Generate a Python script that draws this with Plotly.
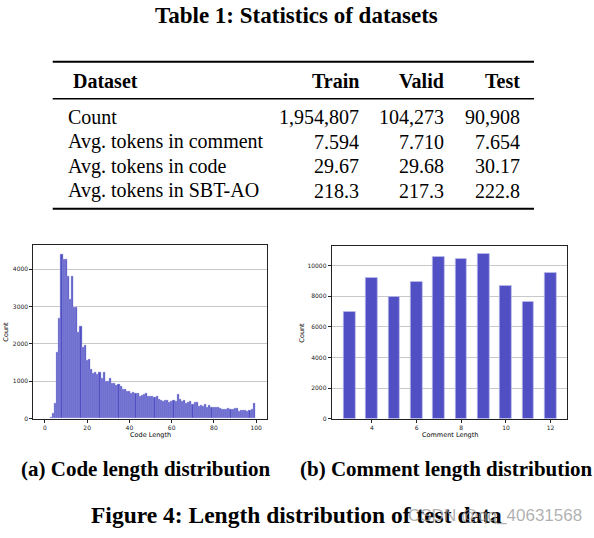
import plotly.graph_objects as go

# ---------------- data ----------------
table_title = "Table 1: Statistics of datasets"
table_header = ["Dataset", "Train", "Valid", "Test"]
row_labels = ["Count", "Avg. tokens in comment", "Avg. tokens in code", "Avg. tokens in SBT-AO"]
train_vals = ["1,954,807", "7.594", "29.67", "218.3"]
valid_vals = ["104,273", "7.710", "29.68", "217.3"]
test_vals = ["90,908", "7.654", "30.17", "222.8"]

code_len = list(range(3, 100))
code_count = [30, 140, 400, 1765, 2690, 4400, 4265, 4265, 3820, 3190,
              3800, 2970, 2990, 2310, 2470, 1920, 1960, 1570, 1600, 1330,
              1210, 1240, 1180, 1240, 1090, 1230, 1000, 1000, 1090, 940,
              940, 890, 910, 870, 780, 780, 740, 740, 690, 710,
              690, 670, 610, 620, 650, 670, 590, 590, 590, 580,
              600, 530, 500, 470, 500, 500, 450, 470, 500, 460,
              650, 520, 470, 490, 400, 450, 470, 390, 430, 430,
              340, 350, 330, 370, 310, 360, 300, 300, 300, 310,
              270, 260, 240, 240, 270, 250, 250, 270, 270, 200,
              220, 230, 210, 200, 210, 250, 420]

comment_len = [3, 4, 5, 6, 7, 8, 9, 10, 11, 12]
comment_count = [7000, 9220, 7960, 8940, 10590, 10480, 10760, 8700, 7610, 9545]

code_ticks = [0, 20, 40, 60, 80, 100]
code_yticks = [0, 1000, 2000, 3000, 4000]
comment_ticks = [4, 6, 8, 10, 12]
comment_yticks = [0, 2000, 4000, 6000, 8000, 10000]

caption_a = "(a) Code length distribution"
caption_b = "(b) Comment length distribution"
figure_caption = "Figure 4: Length distribution of test data"
watermark = "CSDN @qq_40631568"

# ---------------- layout helpers ----------------
W, H = 594, 538
def px(x):
    return x / W
def py(y):
    return 1 - y / H

SERIF = "Liberation Serif"
SANS = "DejaVu Sans"
BAR = "#5050c4"
EDGE = "rgba(190,190,240,0.9)"

fig = go.Figure()

fig.add_trace(go.Bar(x=code_len, y=code_count, width=1.0,
                     marker=dict(color=BAR, line=dict(color=EDGE, width=0.5)),
                     xaxis="x", yaxis="y", showlegend=False))
fig.add_trace(go.Bar(x=comment_len, y=comment_count, width=0.52,
                     marker=dict(color=BAR, line=dict(color=EDGE, width=0.8)),
                     xaxis="x2", yaxis="y2", showlegend=False))

tickfont = dict(family=SANS, size=6, color="#222")
common_ax = dict(showline=True, mirror=True, linecolor="#222", linewidth=1,
                 ticks="outside", ticklen=3, tickwidth=0.8, tickcolor="#222",
                 tickfont=tickfont, zeroline=False, tickformat="d")

fig.update_layout(
    width=W, height=H, margin=dict(l=0, r=0, t=0, b=0),
    paper_bgcolor="white", plot_bgcolor="white", bargap=0,
    xaxis=dict(domain=[px(33.3), px(266.7)], range=[-5.5, 105], tickvals=code_ticks,
               showgrid=False, anchor="y", **common_ax),
    yaxis=dict(domain=[py(421), py(246.7)], range=[0, 4636], tickvals=code_yticks,
               showgrid=True, gridcolor="#c8c8c8", gridwidth=1, anchor="x", **common_ax),
    xaxis2=dict(domain=[px(331.7), px(566.7)], range=[2.2, 12.72], tickvals=comment_ticks,
                showgrid=False, anchor="y2", **common_ax),
    yaxis2=dict(domain=[py(421), py(247.3)], range=[0, 11300], tickvals=comment_yticks,
                showgrid=True, gridcolor="#c8c8c8", gridwidth=1, anchor="x2", **common_ax),
)

ann = []
def text(x, y, s, size, bold=False, family=SERIF, xanchor="center", color="black", angle=0):
    ann.append(dict(x=px(x), y=py(y), xref="paper", yref="paper", text=("<b>%s</b>" % s) if bold else s,
                    showarrow=False, xanchor=xanchor, yanchor="middle", textangle=angle,
                    font=dict(family=family, size=size, color=color)))

# table
text(296, 16, table_title, 23, bold=True)
text(71, 81, table_header[0], 20, bold=True, xanchor="left")
col_right = [361, 446, 522]
for cx, h in zip(col_right, table_header[1:]):
    text(cx, 81, h, 20, bold=True, xanchor="right")
row_y = [117.5, 142.5, 167, 192]
for ry, lab, a, b, c in zip(row_y, row_labels, train_vals, valid_vals, test_vals):
    text(66, ry, lab, 20, xanchor="left")
    for cx, v in zip(col_right, [a, b, c]):
        text(cx, ry, v, 20, xanchor="right")

shapes = [
    dict(type="line", xref="paper", yref="paper", x0=px(52.7), x1=px(534), y0=py(62), y1=py(62),
         line=dict(color="black", width=2)),
    dict(type="line", xref="paper", yref="paper", x0=px(52.7), x1=px(534), y0=py(99.3), y1=py(99.3),
         line=dict(color="black", width=1.3)),
    dict(type="line", xref="paper", yref="paper", x0=px(52.7), x1=px(534), y0=py(210), y1=py(210),
         line=dict(color="black", width=2)),
]

# axis labels
text(150, 437, "Code Length", 6.5, family=SANS)
text(6.5, 334, "Count", 6.5, family=SANS, angle=-90)
text(450, 437, "Comment Length", 6.5, family=SANS)
text(302.5, 335, "Count", 6.5, family=SANS, angle=-90)

# captions
text(145.5, 472, caption_a, 21, bold=True)
text(446, 472, caption_b, 21, bold=True)
text(296, 518, figure_caption, 23.5, bold=True)
text(494.5, 518, watermark, 17, family="Liberation Sans", color="rgba(150,150,150,0.75)")

fig.update_layout(annotations=ann, shapes=shapes)
fig.write_html("out.html", config={"displayModeBar": False},
               post_script="document.body.style.margin='0';document.body.style.overflow='hidden';")
